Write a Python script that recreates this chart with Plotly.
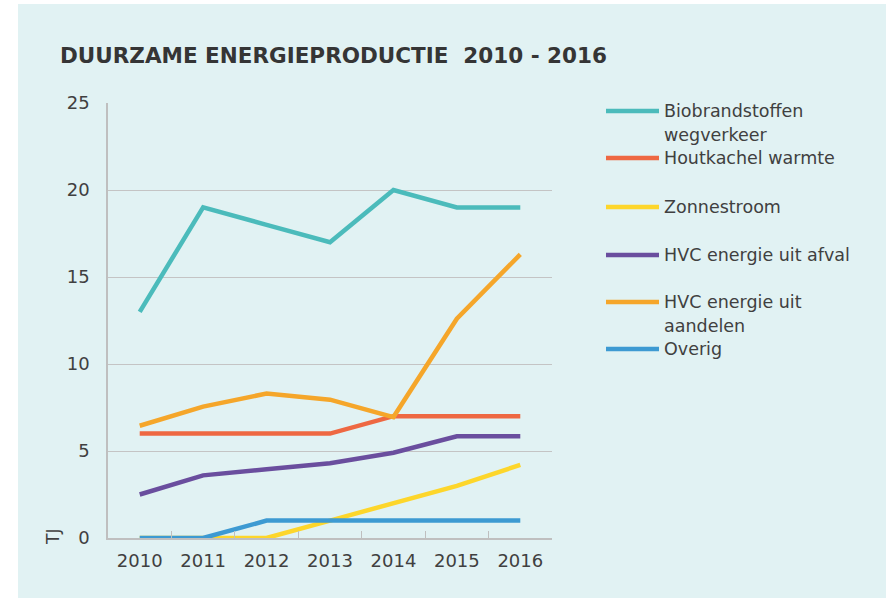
import plotly.graph_objects as go

years = ["2010", "2011", "2012", "2013", "2014", "2015", "2016"]
names = ["Biobrandstoffen<br>wegverkeer", "Houtkachel warmte", "Zonnestroom",
         "HVC energie uit afval", "HVC energie uit<br>aandelen", "Overig"]
biobrandstoffen = [13, 19, 18, 17, 20, 19, 19]
houtkachel = [6, 6, 6, 6, 7, 7, 7]
zonnestroom = [0, 0, 0, 1, 2, 3, 4.2]
hvc_afval = [2.5, 3.6, 3.95, 4.3, 4.9, 5.85, 5.85]
hvc_aandelen = [6.45, 7.55, 8.3, 7.95, 6.95, 12.6, 16.3]
overig = [0, 0, 1, 1, 1, 1, 1]
series = [biobrandstoffen, houtkachel, zonnestroom, hvc_afval, hvc_aandelen, overig]
colors = ["#4BBBBB", "#EE6842", "#FDD62B", "#6A4E9E", "#F5A62A", "#3D9AD2"]
y_ticks = [0, 5, 10, 15, 20, 25]

# layout in pixels
W, H = 886, 598
L, R, T, B = 108, 552, 103, 538
pw, ph = R - L, B - T


def px(x):
    return (x - L) / pw


def py(y):
    return (B - y) / ph


fig = go.Figure()
for name, vals, col in zip(names, series, colors):
    fig.add_trace(go.Scatter(x=years, y=vals, mode="lines", name=name,
                             line=dict(color=col, width=4.5), showlegend=False))

shapes = [dict(type="rect", xref="paper", yref="paper", x0=px(18), x1=px(W + 5),
               y0=py(4), y1=py(H + 5), fillcolor="#E1F2F3", line=dict(width=0),
               layer="below")]
annotations = [
    dict(text="<b>DUURZAME ENERGIEPRODUCTIE  2010 - 2016</b>", xref="paper", yref="paper",
         x=px(58), y=py(55), xanchor="left", yanchor="middle", showarrow=False,
         font=dict(family="DejaVu Sans", size=21.5, color="#353535")),
    dict(text="TJ", xref="paper", yref="paper", x=px(53), y=py(537), textangle=-90,
         xanchor="center", yanchor="middle", showarrow=False,
         font=dict(family="DejaVu Sans", size=17, color="#404040")),
]

legend_y = [111, 158, 207, 255, 302, 349]
for name, col, ly in zip(names, colors, legend_y):
    shapes.append(dict(type="line", xref="paper", yref="paper", x0=px(606), x1=px(659),
                       y0=py(ly), y1=py(ly), line=dict(color=col, width=4.5)))
    for i, part in enumerate(name.split("<br>")):
        annotations.append(dict(text=part, xref="paper", yref="paper", x=px(662),
                                y=py(ly + i * 23.5), xanchor="left", yanchor="middle",
                                showarrow=False,
                                font=dict(family="DejaVu Sans", size=17.5, color="#404040")))

fig.update_layout(
    width=W, height=H,
    margin=dict(l=L, r=W - R, t=T, b=H - B, pad=0),
    paper_bgcolor="white", plot_bgcolor="white",
    shapes=shapes, annotations=annotations,
    font=dict(family="DejaVu Sans", size=18, color="#404040"),
    xaxis=dict(type="category", range=[-0.5, len(years) - 0.5],
               tickson="boundaries", ticks="inside", ticklen=7,
               tickcolor="#BFBFBF", tickwidth=1.3, showgrid=False,
               showline=True, linecolor="#BFBFBF", linewidth=1.5,
               tickfont=dict(family="DejaVu Sans", size=18, color="#404040"),
               ticklabelstandoff=6, fixedrange=True),
    yaxis=dict(range=[0, 25], tickvals=y_ticks, showgrid=True, gridcolor="#C4C4C4",
               gridwidth=1.3, showline=True, linecolor="#BFBFBF", linewidth=1.5,
               zeroline=False, ticks="",
               tickfont=dict(family="DejaVu Sans", size=18, color="#404040"),
               ticklabelstandoff=13, fixedrange=True),
)

fig.write_html("out.html", config={"displayModeBar": False},
               post_script="document.body.style.margin='0';document.body.style.overflow='hidden';")
